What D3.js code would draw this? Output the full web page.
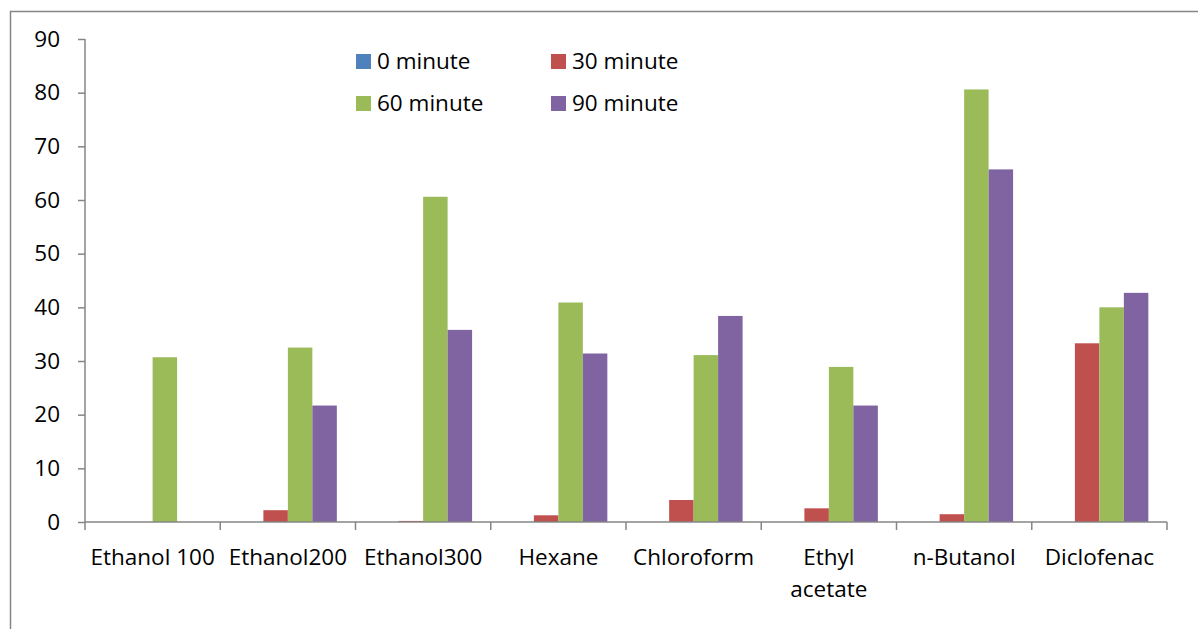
<!DOCTYPE html>
<html><head><meta charset="utf-8">
<script src="https://cdn.jsdelivr.net/npm/d3@7"></script>
<style>body{margin:0;background:#fff}svg{display:block}text{font-family:"Open Sans",sans-serif;fill:#000}</style>
</head><body><svg id="c" width="1198" height="629"></svg>
<script>
const categories = ["Ethanol 100","Ethanol200","Ethanol300","Hexane","Chloroform","Ethyl acetate","n-Butanol","Diclofenac"];
const seriesNames = ["0 minute","30 minute","60 minute","90 minute"];
const min0  = [0,0,0,0,0,0,0,0];
const min30 = [0,2.2,0.2,1.25,4.1,2.55,1.45,33.3];
const min60 = [30.7,32.5,60.6,40.9,31.1,28.9,80.6,40.0];
const min90 = [0,21.7,35.8,31.4,38.4,21.7,65.7,42.7];
const yTicks = [0,10,20,30,40,50,60,70,80,90];
const colors = ["#4F81BD","#C0504D","#9BBB59","#8064A2"];
const seriesValues = [min0,min30,min60,min90];

const svg = d3.select("#c");
const pLeft = 85, pRight = 1167, pTop = 39, pBottom = 522;
const fs = 22.5;

// outer frame (cropped chart area border)
svg.append("path").attr("d","M10.5,700 V11.5 H1300").attr("fill","none").attr("stroke","#868686").attr("stroke-width",1.5);

const x0 = d3.scaleBand().domain(categories).range([pLeft,pRight]).paddingInner(0.276).paddingOuter(0.138);
const x1 = d3.scaleBand().domain(seriesNames).range([0,x0.bandwidth()]);
const y = d3.scaleLinear().domain([0,90]).range([pBottom,pTop]);

// bars
seriesNames.forEach((s,si)=>{
  svg.append("g").selectAll("rect").data(categories).join("rect")
    .attr("x",c=>x0(c)+x1(s))
    .attr("width",x1.bandwidth())
    .attr("y",(c,i)=>y(seriesValues[si][i]))
    .attr("height",(c,i)=>y(0)-y(seriesValues[si][i]))
    .attr("fill",colors[si]);
});

// y axis
const ya = svg.append("g").attr("transform",`translate(${pLeft},0)`)
  .call(d3.axisLeft(y).tickValues(yTicks).tickSize(7).tickPadding(18));
ya.select(".domain").attr("stroke","#868686").attr("stroke-width",1.5).attr("d",`M0,${pTop}V${pBottom}`);
ya.selectAll(".tick line").attr("stroke","#868686").attr("stroke-width",1.5);
ya.selectAll(".tick text").attr("font-size",fs).attr("font-family","Open Sans").attr("fill","#000");

// x axis
const xg = svg.append("g");
xg.append("line").attr("x1",pLeft).attr("x2",pRight).attr("y1",pBottom).attr("y2",pBottom).attr("stroke","#868686").attr("stroke-width",1.5);
const catW = (pRight-pLeft)/categories.length;
const bounds = d3.range(categories.length+1).map(i=>pLeft+ i*catW);
xg.selectAll(".xt").data(bounds).join("line").attr("class","xt")
  .attr("x1",d=>d).attr("x2",d=>d).attr("y1",pBottom).attr("y2",pBottom+8)
  .attr("stroke","#868686").attr("stroke-width",1.5);

categories.forEach(c=>{
  const cx = x0(c)+x0.bandwidth()/2;
  const t = xg.append("text").attr("x",cx).attr("y",565).attr("text-anchor","middle").attr("font-size",fs).text(c);
  if (t.node().getComputedTextLength() > catW*0.94) {
    const words = c.split(" ");
    t.text(null);
    words.forEach((w,i)=>t.append("tspan").attr("x",cx).attr("y",565+i*32).text(w));
  }
});

// legend
const legPos = [[356,54],[551,54],[356,96],[551,96]];
seriesNames.forEach((s,i)=>{
  const [lx,ly] = legPos[i];
  svg.append("rect").attr("x",lx).attr("y",ly).attr("width",15).attr("height",15).attr("fill",colors[i]);
  svg.append("text").attr("x",lx+21).attr("y",ly+15).attr("font-size",fs).text(s);
});
</script></body></html>
